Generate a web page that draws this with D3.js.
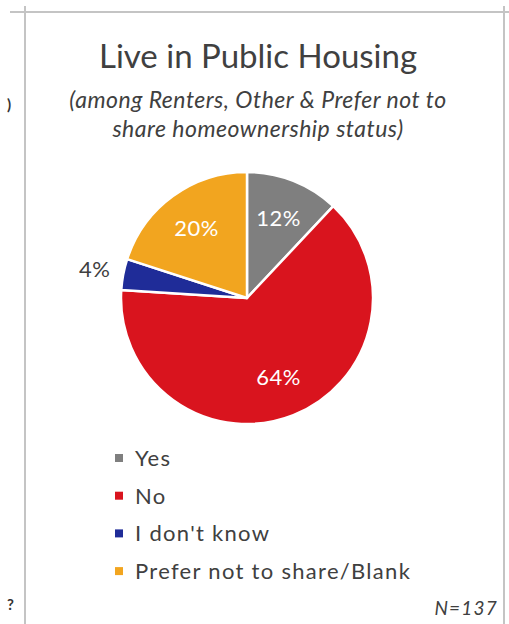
<!DOCTYPE html>
<html>
<head>
<meta charset="utf-8">
<script src="https://cdn.jsdelivr.net/npm/d3@7"></script>
<style>
  html, body { margin: 0; padding: 0; background: #ffffff; }
  svg { display: block; }
</style>
</head>
<body>
<svg id="chart" width="509" height="624"></svg>
<script>
// Survey answers: "Do you live in public housing?"
const categories = ["Yes", "No", "I don't know", "Prefer not to share/Blank"];
const shares = [12, 64, 4, 20];
const sliceColors = ["#7f7f7f", "#d9141e", "#1f2c98", "#f2a51f"];
const labelColors = ["#ffffff", "#ffffff", "#404040", "#ffffff"];
const titleText = "Live in Public Housing";
const subtitleLines = ["(among Renters, Other & Prefer not to", "share homeownership status)"];
const sampleNote = "N=137";

const svg = d3.select("#chart");
const textColor = "#404040";
const font = "Lato, 'Open Sans', sans-serif";

// slide frame edges
const frame = svg.append("g").attr("stroke", "#c4c4c4").attr("stroke-width", 2);
frame.append("line").attr("x1", 10).attr("x2", 509).attr("y1", 12).attr("y2", 12);
frame.append("line").attr("x1", 25).attr("x2", 25).attr("y1", 6).attr("y2", 624);
frame.append("line").attr("x1", 504).attr("x2", 504).attr("y1", 6).attr("y2", 624);

// clipped glyphs from the neighbouring slide
svg.append("text").attr("x", 7).attr("y", 110).attr("font-family", font)
  .attr("font-size", 15).attr("font-weight", 700).attr("fill", "#333").text(")");
svg.append("text").attr("x", 7).attr("y", 610).attr("font-family", font)
  .attr("font-size", 15).attr("font-weight", 700).attr("fill", "#333").text("?");

// title and subtitle
svg.append("text")
  .attr("x", 258).attr("y", 68)
  .attr("text-anchor", "middle")
  .attr("font-family", font).attr("font-size", 33)
  .attr("fill", textColor)
  .text(titleText);

svg.selectAll("text.sub")
  .data(subtitleLines)
  .join("text")
  .attr("class", "sub")
  .attr("x", 258)
  .attr("y", (d, i) => 108 + i * 29)
  .attr("text-anchor", "middle")
  .attr("font-family", font).attr("font-size", 23)
  .attr("letter-spacing", 0.5)
  .attr("font-style", "italic")
  .attr("fill", textColor)
  .text(d => d);

// pie
const cx = 247, cy = 298, R = 126;
const pie = d3.pie().sort(null).value(d => d.value);
const arcs = pie(categories.map((c, i) => ({ name: c, value: shares[i], i })));
const arc = d3.arc().innerRadius(0).outerRadius(R);
const labelArc = d3.arc().innerRadius(R * 0.68).outerRadius(R * 0.68);
const outerArc = d3.arc().innerRadius(R + 29).outerRadius(R + 29);

const g = svg.append("g").attr("transform", `translate(${cx},${cy})`);
g.selectAll("path")
  .data(arcs)
  .join("path")
  .attr("d", arc)
  .attr("fill", d => sliceColors[d.data.i])
  .attr("stroke", "#ffffff")
  .attr("stroke-width", 2.5)
  .attr("stroke-linejoin", "round");

// small slices get their label outside the pie
g.selectAll("text.val")
  .data(arcs)
  .join("text")
  .attr("class", "val")
  .attr("transform", d => {
    const p = (d.data.value < 8 ? outerArc : labelArc).centroid(d);
    return `translate(${p[0]},${p[1]})`;
  })
  .attr("text-anchor", "middle")
  .attr("dy", "0.35em")
  .attr("font-family", font).attr("font-size", 22)
  .attr("letter-spacing", 0.5)
  .attr("fill", d => labelColors[d.data.i])
  .text(d => d.data.value + "%");

// legend
const legend = svg.append("g").attr("transform", "translate(115,458)");
const rows = legend.selectAll("g")
  .data(categories)
  .join("g")
  .attr("transform", (d, i) => `translate(0,${i * 37.7})`);
rows.append("rect")
  .attr("x", 0).attr("y", -4).attr("width", 8).attr("height", 8)
  .attr("fill", (d, i) => sliceColors[i]);
rows.append("text")
  .attr("x", 20).attr("dy", "0.36em")
  .attr("font-family", font).attr("font-size", 22)
  .attr("letter-spacing", 1.3)
  .attr("fill", textColor)
  .text(d => d);

// sample size note
svg.append("text")
  .attr("x", 498).attr("y", 615)
  .attr("text-anchor", "end")
  .attr("font-family", font).attr("font-size", 19)
  .attr("letter-spacing", 1.2)
  .attr("font-style", "italic")
  .attr("fill", textColor)
  .text(sampleNote);
</script>
</body>
</html>
